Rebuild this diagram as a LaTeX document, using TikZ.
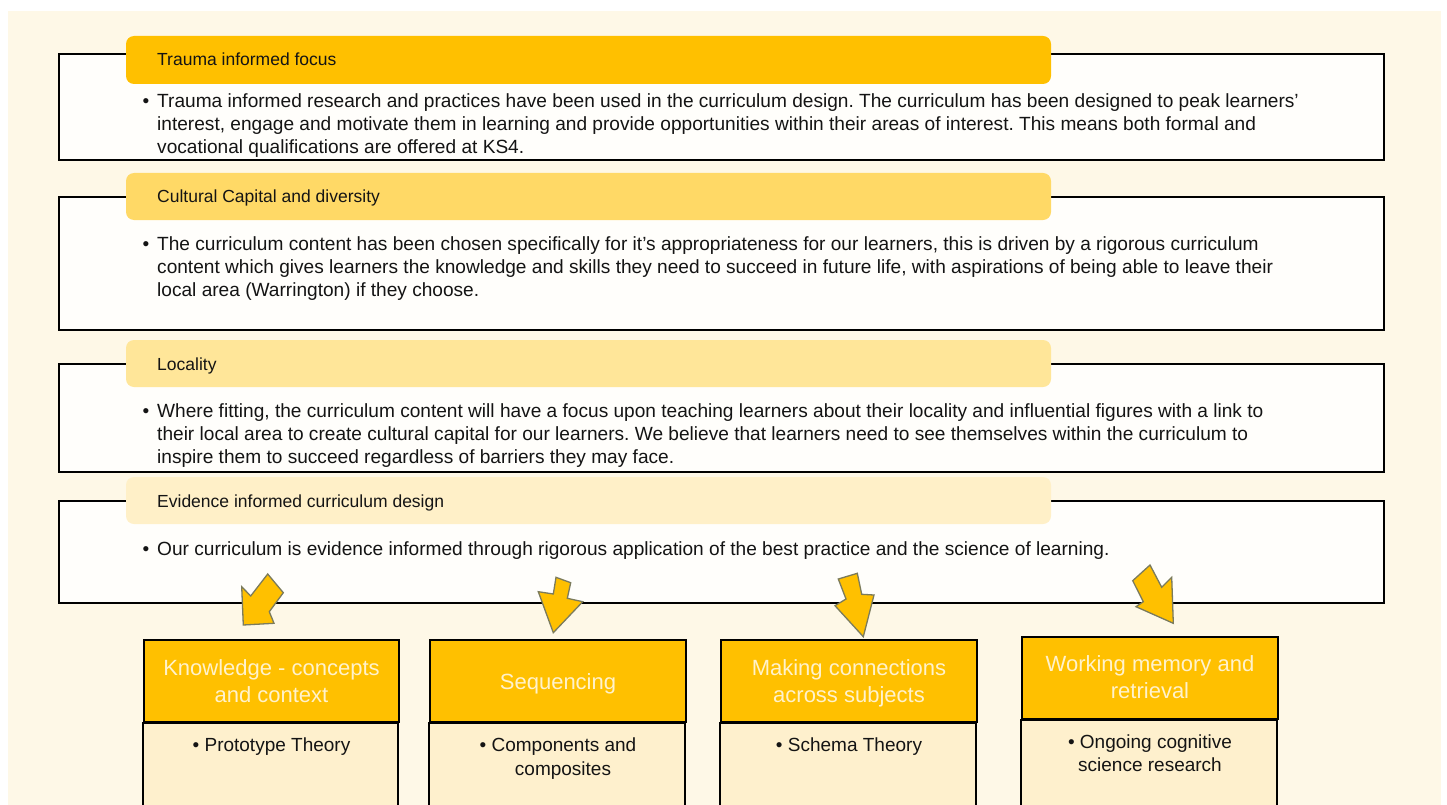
\documentclass[tikz,border=0pt]{standalone}
\usepackage{fontspec}
\setmainfont{Liberation Sans}
\frenchspacing
\definecolor{canvas}{HTML}{FEF8E7}
\definecolor{boxfill}{HTML}{FFFEFB}
\definecolor{hA}{HTML}{FFC000}
\definecolor{hB}{HTML}{FFD966}
\definecolor{hC}{HTML}{FFE699}
\definecolor{hD}{HTML}{FFF0C8}
\definecolor{lowfill}{HTML}{FEF0CD}
\definecolor{paletext}{HTML}{FFF2CC}
\definecolor{arrowline}{HTML}{7B7B5C}
\definecolor{ink}{HTML}{141414}
\tikzset{
  bigbox/.style={draw=black, line width=2pt, fill=boxfill, inner sep=0, rectangle},
  hdrbox/.style={rounded corners=8pt, inner sep=0, rectangle, draw=none},
  hdrtext/.style={anchor=base west, inner sep=0, text=ink, font=\fontsize{17.5}{21}\selectfont\frenchspacing},
  bodytext/.style={anchor=base west, inner sep=0, text=ink, font=\fontsize{19.1}{23}\selectfont\frenchspacing},
  lowhead/.style={draw=black, line width=2pt, fill=hA, inner sep=0, rectangle},
  lowbody/.style={draw=black, line width=2pt, fill=lowfill},
  lowheadtext/.style={anchor=base, inner sep=0, text=paletext, font=\fontsize{22}{27}\selectfont},
  lowbodytext/.style={anchor=base, inner sep=0, text=ink, font=\fontsize{19}{23}\selectfont},
  blockarrow/.style={fill=hA, draw=arrowline, line width=1.3pt, line join=miter},
}
\newcommand{\bul}{\makebox[0pt][r]{\textbullet\hspace{8pt}}}
\begin{document}
\begin{tikzpicture}[x=1pt,y=-1pt]
\useasboundingbox (0,0) rectangle (1447,805);
\clip (0,0) rectangle (1447,805);
\fill[white] (0,0) rectangle (1447,805);
\fill[canvas] (8,11) rectangle (1441,815);

% ---- box 1
\node[bigbox, minimum width=1325pt, minimum height=106pt] (b1) at (721.5,107) {};
\node[hdrbox, fill=hA, minimum width=925pt, minimum height=48pt] (h1) at (588.5,60) {};
\node[hdrtext] (h1t) at (157,66) {Trauma informed focus};
\node[bodytext] (t1a) at (157,108) {\bul Trauma informed research and practices have been used in the curriculum design. The curriculum has been designed to peak learners’};
\node[bodytext] (t1b) at (157,131) {interest, engage and motivate them in learning and provide opportunities within their areas of interest. This means both formal and};
\node[bodytext] (t1c) at (157,154) {vocational qualifications are offered at KS4.};

% ---- box 2
\node[bigbox, minimum width=1325pt, minimum height=133pt] (b2) at (721.5,263.5) {};
\node[hdrbox, fill=hB, minimum width=925pt, minimum height=47pt] (h2) at (588.5,196.5) {};
\node[hdrtext] (h2t) at (157,203) {Cultural Capital and diversity};
\node[bodytext] (t2a) at (157,250) {\bul The curriculum content has been chosen specifically for it’s appropriateness for our learners, this is driven by a rigorous curriculum};
\node[bodytext] (t2b) at (157,273) {content which gives learners the knowledge and skills they need to succeed in future life, with aspirations of being able to leave their};
\node[bodytext] (t2c) at (157,296) {local area (Warrington) if they choose.};

% ---- box 3
\node[bigbox, minimum width=1325pt, minimum height=108pt] (b3) at (721.5,418) {};
\node[hdrbox, fill=hC, minimum width=925pt, minimum height=47pt] (h3) at (588.5,363.5) {};
\node[hdrtext] (h3t) at (157,370) {Locality};
\node[bodytext] (t3a) at (157,417) {\bul Where fitting, the curriculum content will have a focus upon teaching learners about their locality and influential figures with a link to};
\node[bodytext] (t3b) at (157,440) {their local area to create cultural capital for our learners. We believe that learners need to see themselves within the curriculum to};
\node[bodytext] (t3c) at (157,463) {inspire them to succeed regardless of barriers they may face.};

% ---- box 4
\node[bigbox, minimum width=1325pt, minimum height=102pt] (b4) at (721.5,552) {};
\node[hdrbox, fill=hD, minimum width=925pt, minimum height=47pt] (h4) at (588.5,500.5) {};
\node[hdrtext] (h4t) at (157,507) {Evidence informed curriculum design};
\node[bodytext] (t4a) at (157,555) {\bul Our curriculum is evidence informed through rigorous application of the best practice and the science of learning.};

% ---- lower boxes
\node[lowhead, minimum width=255pt, minimum height=82pt] (kA) at (271.5,681) {};
\draw[lowbody] (kA.south west) rectangle ++(255,100);
\node[lowheadtext] (kAt1) at (271.5,675) {Knowledge - concepts};
\node[lowheadtext] (kAt2) at (271.5,702) {and context};
\node[lowbodytext] (kAb1) at (271.5,751) {\textbullet\ Prototype Theory};

\node[lowhead, minimum width=256pt, minimum height=82pt] (kB) at (558,681) {};
\draw[lowbody] (kB.south west) rectangle ++(256,100);
\node[lowheadtext] (kBt1) at (558,689) {Sequencing};
\node[lowbodytext] (kBb1) at (558,751) {\textbullet\ Components and};
\node[lowbodytext] (kBb2) at (563,775) {composites};

\node[lowhead, minimum width=256pt, minimum height=82pt] (kC) at (849,681) {};
\draw[lowbody] (kC.south west) rectangle ++(256,100);
\node[lowheadtext] (kCt1) at (849,675) {Making connections};
\node[lowheadtext] (kCt2) at (849,702) {across subjects};
\node[lowbodytext] (kCb1) at (849,751) {\textbullet\ Schema Theory};

\node[lowhead, minimum width=256pt, minimum height=82pt] (kD) at (1150,678) {};
\draw[lowbody] (kD.south west) rectangle ++(256,100);
\node[lowheadtext] (kDt1) at (1150,671) {Working memory and};
\node[lowheadtext] (kDt2) at (1150,698) {retrieval};
\node[lowbodytext] (kDb1) at (1150,748) {\textbullet\ Ongoing cognitive};
\node[lowbodytext] (kDb2) at (1150,771) {science research};

% ---- block arrows
\filldraw[blockarrow] (267.7,574) -- (283.3,592.7) -- (269.3,611.7) -- (274,623.3) -- (243.3,625) -- (241.7,586.7) -- (250.7,596) -- cycle;
\filldraw[blockarrow] (556,577.3) -- (570.7,582.7) -- (567.3,598.3) -- (582.7,601.7) -- (553.3,632.7) -- (538.3,591.7) -- (553.3,594) -- cycle;
\filldraw[blockarrow] (838.3,579) -- (857.3,573.3) -- (861.7,594.3) -- (874,595) -- (863.3,636.7) -- (835,605.7) -- (846,599) -- cycle;
\filldraw[blockarrow] (1150,565) -- (1161.7,587.3) -- (1171.7,577.3) -- (1173.3,623.3) -- (1136,606.7) -- (1143.3,601.7) -- (1132.7,580.7) -- cycle;
\end{tikzpicture}
\end{document}
